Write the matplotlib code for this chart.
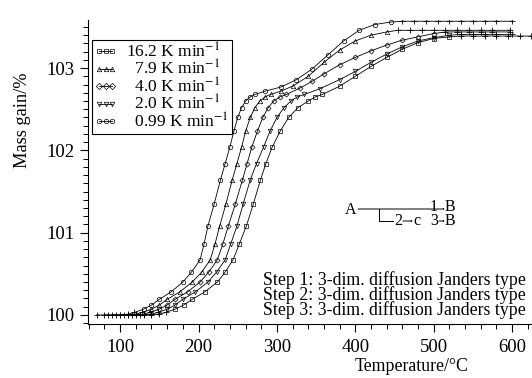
import numpy as np
import matplotlib
matplotlib.use('Agg')
import matplotlib.pyplot as plt
from matplotlib.lines import Line2D
from matplotlib.patches import FancyArrowPatch

plt.rcParams['font.family'] = ['Liberation Serif', 'DejaVu Serif']
plt.rcParams['mathtext.fontset'] = 'stix'

# first step: common mass levels, temperature read per curve
step1_mass = [100.0, 100.0, 100.0, 100.01, 100.03, 100.07, 100.12, 100.19, 100.28, 100.40,
              100.52, 100.67, 100.86, 101.08, 101.35, 101.64, 101.84, 102.04, 102.23, 102.40,
              102.52, 102.60, 102.65, 102.68]

t1_a = [70, 85, 100, 110, 118, 130, 140, 150, 165, 180, 191, 202, 207, 212, 220, 228, 234, 240, 245, 250, 255, 260, 266, 272]
t2_a = [80, 95, 110, 120, 128, 140, 150, 160, 176, 192, 204, 215, 221, 227, 235, 243, 249, 255, 260, 266, 272, 278, 285, 292]
t3_a = [90, 105, 120, 130, 138, 150, 160, 170, 186, 202, 213, 224, 231, 238, 247, 256, 262, 268, 275, 282, 289, 296, 304, 312]
t4_a = [100, 115, 130, 140, 148, 160, 170, 180, 196, 212, 223, 234, 241, 249, 257, 266, 274, 283, 291, 300, 309, 318, 326, 335]
t5_a = [110, 125, 140, 150, 158, 170, 181, 192, 208, 224, 234, 244, 252, 261, 270, 279, 286, 294, 304, 315, 327, 340, 349, 358]

# second step
t1_b = [285, 305, 325, 345, 365, 385, 405, 425, 445, 460, 475, 490, 505, 520, 535, 550, 565, 580, 600]
m1_b = [102.72, 102.77, 102.86, 102.99, 103.16, 103.33, 103.46, 103.53, 103.56, 103.57,
        103.57, 103.57, 103.57, 103.57, 103.57, 103.57, 103.57, 103.57, 103.57]
t2_b = [305, 320, 340, 360, 380, 400, 420, 440, 455, 470, 485, 500, 515, 530, 545, 560, 575, 597]
m2_b = [102.72, 102.78, 102.90, 103.07, 103.22, 103.33, 103.40, 103.44, 103.46, 103.46,
        103.46, 103.46, 103.46, 103.46, 103.46, 103.46, 103.46, 103.46]
t3_b = [330, 345, 360, 380, 400, 420, 440, 460, 480, 500, 515, 530, 545, 560, 575, 597]
m3_b = [102.76, 102.84, 102.93, 103.04, 103.13, 103.21, 103.28, 103.34, 103.38, 103.42,
        103.44, 103.44, 103.44, 103.44, 103.44, 103.44]
t4_b = [355, 380, 400, 420, 440, 460, 480, 500, 520, 535, 550, 565, 580, 600]
m4_b = [102.75, 102.86, 102.96, 103.07, 103.17, 103.26, 103.33, 103.37, 103.40, 103.41,
        103.41, 103.41, 103.41, 103.41]
t5_b = [380, 400, 420, 440, 460, 480, 500, 520, 535, 550, 565, 580, 595, 610, 624]
m5_b = [102.78, 102.90, 103.02, 103.13, 103.23, 103.31, 103.36, 103.38, 103.39, 103.39,
        103.39, 103.39, 103.39, 103.39, 103.39]

labels = ['16.2 K min$^{-1}$', '  7.9 K min$^{-1}$', '  4.0 K min$^{-1}$',
          '  2.0 K min$^{-1}$', '  0.99 K min$^{-1}$']
legend_markers = ['s', '^', 'D', 'v', 'o']

curves = [  # (T, mass, marker) leftmost to rightmost
    (t1_a + t1_b, step1_mass + m1_b, 'o'),
    (t2_a + t2_b, step1_mass + m2_b, '^'),
    (t3_a + t3_b, step1_mass + m3_b, 'D'),
    (t4_a + t4_b, step1_mass + m4_b, 'v'),
    (t5_a + t5_b, step1_mass + m5_b, 's'),
]

W, H = 532, 378
fig = plt.figure(figsize=(W / 100, H / 100), dpi=100)
ax = fig.add_axes([88 / W, 1 - 324 / H, 1 - 88 / W, (324 - 20) / H])

def px(x, y):
    # pixel position (from top-left) -> figure fraction
    return x / W, 1 - y / H

for T, m, mk in curves:
    T = np.array(T, float)
    m = np.array(m, float)
    ax.plot(T, m, '-', color='black', lw=0.6)
    flat = (m <= 100.03) | (m >= m.max() - 0.005)
    ms = 3.2 if mk != 'D' else 2.6
    ax.plot(T[~flat], m[~flat], ls='none', marker=mk, ms=ms, mfc='none', mec='black', mew=0.5)
    ax.plot(T[flat], m[flat], ls='none', marker='+', ms=4, mec='black', mew=0.6)

ax.set_xlim(59, 625.5)
ax.set_ylim(99.89, 103.585)
ax.set_xticks([100, 200, 300, 400, 500, 600])
ax.set_xticks(np.arange(60, 625, 20), minor=True)
ax.set_yticks([100, 101, 102, 103])
ax.set_yticks(np.arange(99.9, 103.6, 0.1), minor=True)
ax.tick_params(which='major', direction='out', length=6, width=0.8, labelsize=13.5, colors='black')
ax.tick_params(which='minor', direction='out', length=3.5, width=0.7)
ax.tick_params(axis='x', pad=4.5)
for s in ['top', 'right']:
    ax.spines[s].set_visible(False)
for s in ['left', 'bottom']:
    ax.spines[s].set_linewidth(0.8)

ax.set_ylabel('Mass gain/%', fontsize=13.2)
ax.yaxis.set_label_coords(-0.128, 0.671)
ax.set_xlabel('Temperature/°C', fontsize=12.8)
ax.xaxis.set_label_coords(0.728, -0.113)

handles = [Line2D([], [], color='black', lw=0.6, marker=mk, ms=3.2, mfc='none', mew=0.5)
           for mk in legend_markers]
leg = ax.legend(handles, labels, loc='upper left', bbox_to_anchor=(0.008, 0.935),
                fontsize=12.5, numpoints=3, handlelength=1.35, handletextpad=0.5,
                labelspacing=-0.1, borderpad=0.15, fancybox=False, framealpha=1,
                edgecolor='black', borderaxespad=0)
leg.get_frame().set_linewidth(0.8)

# reaction scheme
tk = dict(fontsize=11.5, ha='center', va='baseline')
fig.text(*px(351, 214), 'A', **tk)
fig.text(*px(398, 225), '2', **tk)
fig.text(*px(417, 225), 'c', **tk)
fig.text(*px(434, 225), '1\n3', linespacing=0.85, **tk)
fig.text(*px(450, 225), 'B\nB', linespacing=0.85, **tk)
ak = dict(arrowstyle='-|>,head_length=0.35,head_width=0.15', color='black', lw=0.7,
          shrinkA=0, shrinkB=0, transform=fig.transFigure)
fig.add_artist(FancyArrowPatch(px(358, 209), px(445, 209), **ak))
fig.add_artist(Line2D([379 / W, 379 / W, 393 / W], [1 - 209 / H, 1 - 221 / H, 1 - 221 / H],
                      transform=fig.transFigure, color='black', lw=0.7))
fig.add_artist(FancyArrowPatch(px(403, 221), px(413, 221), **ak))
fig.add_artist(FancyArrowPatch(px(439, 221), px(445, 221), **ak))

steps = ['Step 1: 3-dim. diffusion Janders type',
         'Step 2: 3-dim. diffusion Janders type',
         'Step 3: 3-dim. diffusion Janders type']
fig.text(*px(526, 295), '\n'.join(steps), fontsize=12.8, ha='right', va='center',
         multialignment='right', linespacing=0.82)

plt.savefig('out.png', dpi=100)
